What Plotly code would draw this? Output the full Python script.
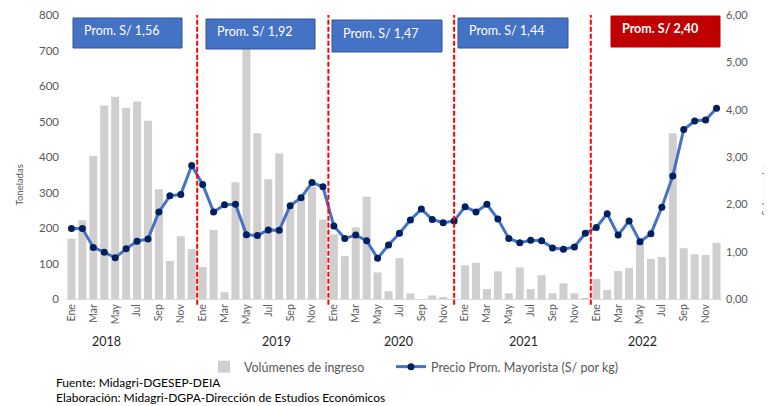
import plotly.graph_objects as go

# --- data ---
years = [2018, 2019, 2020, 2021, 2022]
months = ["Ene", "Feb", "Mar", "Abr", "May", "Jun", "Jul", "Ago", "Sep", "Oct", "Nov", "Dic"]

vol2018 = [170, 222, 403, 545, 570, 539, 556, 502, 309, 107, 177, 141]
vol2019 = [90, 194, 19, 329, 705, 467, 337, 410, 257, 284, 316, 224]
vol2020 = [182, 121, 202, 288, 75, 22, 115, 16, 0, 10, 3, 0]
vol2021 = [95, 102, 28, 78, 16, 89, 28, 67, 16, 44, 16, 1]
vol2022 = [56, 25, 79, 87, 157, 113, 118, 467, 143, 126, 124, 158]

pre2018 = [1.49, 1.49, 1.09, 0.99, 0.87, 1.06, 1.22, 1.27, 1.84, 2.18, 2.21, 2.82]
pre2019 = [2.42, 1.84, 1.99, 2.00, 1.36, 1.34, 1.46, 1.45, 1.97, 2.14, 2.46, 2.37]
pre2020 = [1.54, 1.28, 1.35, 1.23, 0.86, 1.14, 1.39, 1.67, 1.90, 1.68, 1.61, 1.65]
pre2021 = [1.95, 1.84, 2.00, 1.69, 1.28, 1.19, 1.24, 1.23, 1.08, 1.05, 1.10, 1.39]
pre2022 = [1.51, 1.80, 1.35, 1.65, 1.21, 1.38, 1.94, 2.60, 3.58, 3.76, 3.78, 4.03]

promedios = ["Prom. S/ 1,56", "Prom. S/ 1,92", "Prom. S/ 1,47", "Prom. S/ 1,44", "Prom. S/ 2,40"]
separadores = [11.5, 23.5, 35, 47.5]

volumenes = vol2018 + vol2019 + vol2020 + vol2021 + vol2022
precios = pre2018 + pre2019 + pre2020 + pre2021 + pre2022
fechas = ["%s %d" % (m, y) for y in years for m in months]

# screen geometry (772 x 406 window); the page body adds an 8px offset
W, H, OFF = 772, 406, 8
L, R, T, B = 66, 722, 15, 299


def px(x):
    return (x - L) / (R - L)


def py(y):
    return (B - y) / (B - T)


FONT = "Lato, Calibri, sans-serif"
GRIS = "#595959"

fig = go.Figure()
fig.add_trace(go.Bar(x=fechas, y=volumenes, name="Volúmenes de ingreso", legend="legend",
                     marker=dict(color="#D0CECE", line=dict(width=0))))
fig.add_trace(go.Scatter(x=fechas, y=precios, name="Precio Prom. Mayorista (S/ por kg)",
                         yaxis="y2", mode="lines+markers", legend="legend2",
                         line=dict(color="#4472C4", width=3),
                         marker=dict(color="#002060", size=7)))

leyenda = dict(orientation="h", xanchor="left", y=py(367), yanchor="middle",
               font=dict(size=12.5, color=GRIS), bgcolor="rgba(0,0,0,0)")

fig.update_layout(
    width=W - OFF, height=H - OFF,
    margin=dict(l=L - OFF, r=W - R, t=T - OFF, b=H - B, autoexpand=False),
    plot_bgcolor="white", paper_bgcolor="white",
    separators=",.",
    bargap=0.27,
    font=dict(family=FONT, size=11, color=GRIS),
    xaxis=dict(range=[-0.5, 59.5], tickvals=fechas[::2], ticktext=months[::2] * 5, tickangle=-90,
               tickfont=dict(size=10.5, color=GRIS), showgrid=False, automargin=False,
               showline=True, linecolor="#D9D9D9", linewidth=1, ticks=""),
    yaxis=dict(range=[0, 800], dtick=100, showgrid=False, zeroline=False, automargin=False,
               tickfont=dict(size=11.5, color=GRIS), ticklabelstandoff=6,
               ticklabeloverflow="allow"),
    yaxis2=dict(range=[0, 6], dtick=1, overlaying="y", side="right", tickformat=".2f",
                showgrid=False, zeroline=False, automargin=False,
                tickfont=dict(size=11, color=GRIS), ticklabelstandoff=3,
                ticklabeloverflow="allow"),
    legend=dict(leyenda, x=px(204)),
    legend2=dict(leyenda, x=px(391)),
    showlegend=True,
)

# red dashed year separators
for s in separadores:
    fig.add_shape(type="line", xref="x", yref="paper", x0=s, x1=s, y0=-0.02, y1=1.0,
                  line=dict(color="#FF0000", width=2, dash="5px,2px"), layer="above")

# average price boxes
cajas = [(73, 182, 18, 48), (206, 315, 19, 49), (332, 442, 20, 52), (458, 568, 18, 48), (611, 720, 16, 47)]
for i, (x0, x1, y0, y1) in enumerate(cajas):
    rojo = i == len(cajas) - 1
    fig.add_shape(type="rect", xref="paper", yref="paper",
                  x0=px(x0), x1=px(x1), y0=py(y1), y1=py(y0),
                  fillcolor="#C00000" if rojo else "#4472C4",
                  line=dict(color="#C00000" if rojo else "#2F5597", width=1), layer="above")
    texto = "<b>%s</b>" % promedios[i] if rojo else promedios[i]
    fig.add_annotation(xref="paper", yref="paper", x=px(x0 + 9), y=py((y0 + y1) / 2 - 3),
                       text=texto, showarrow=False, xanchor="left", yanchor="middle",
                       font=dict(size=12.5, color="white", family=FONT))

# year labels under the month ticks
anios_x = [106, 276, 398, 523, 642]
for y, xp in zip(years, anios_x):
    fig.add_annotation(xref="paper", yref="paper", x=px(xp), y=py(341), text=str(y),
                       showarrow=False, xanchor="center", yanchor="middle",
                       font=dict(size=12.5, color="#262626", family=FONT))

# axis titles (the right one is clipped by the window edge, as in the original)
fig.add_annotation(xref="paper", yref="paper", x=px(11), y=py(185), text="Toneladas",
                   textangle=-90, showarrow=False, font=dict(size=9.5, color=GRIS))
fig.add_annotation(xref="paper", yref="paper", x=px(772), y=py(190), text="Soles por kg",
                   textangle=-90, showarrow=False, font=dict(size=9.5, color=GRIS))

# source notes
fig.add_annotation(xref="paper", yref="paper", x=px(54), y=py(382), text="Fuente: Midagri-DGESEP-DEIA",
                   showarrow=False, xanchor="left", yanchor="middle",
                   font=dict(size=12, color="black", family=FONT))
fig.add_annotation(xref="paper", yref="paper", x=px(54), y=py(397),
                   text="Elaboración: Midagri-DGPA-Dirección de Estudios Económicos",
                   showarrow=False, xanchor="left", yanchor="middle",
                   font=dict(size=12, color="black", family=FONT))

fig.write_html("out.html")
